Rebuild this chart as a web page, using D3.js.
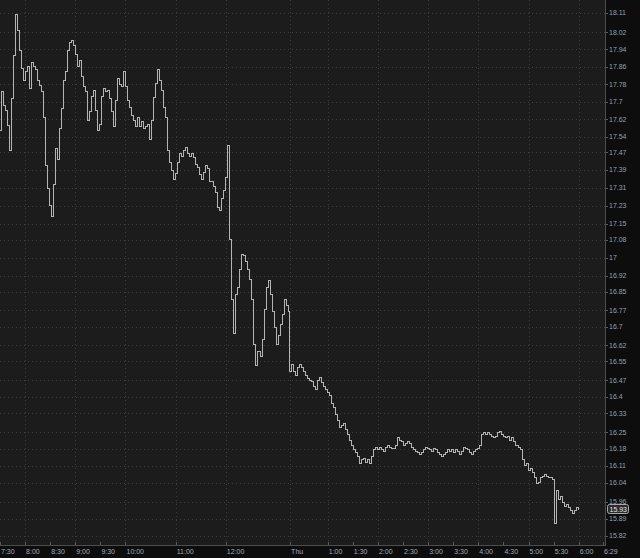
<!DOCTYPE html>
<html>
<head>
<meta charset="utf-8">
<script src="https://cdn.jsdelivr.net/npm/d3@7"></script>
<style>
body { margin: 0; background: #0d0d0d; }
svg text { font-family: "Liberation Sans", Arial, sans-serif; font-size: 7px; }
</style>
</head>
<body>
<div id="chart"></div>
<script>
// price bars, one every 2.4 minutes
var barMinutes = 2.4;

var session1Start = "7:30";
var session1Prices = [
    17.570, 17.744, 17.683, 17.661, 17.592, 17.479, 17.714, 17.911, 18.102, 18.027,
    17.933, 17.854, 17.797, 17.837, 17.863, 17.762, 17.881, 17.863, 17.846, 17.797,
    17.775, 17.744, 17.626, 17.411, 17.308, 17.233, 17.184, 17.323, 17.488, 17.435,
    17.579, 17.670, 17.797, 17.837, 17.933, 17.974, 17.983, 17.957, 17.916, 17.863,
    17.889, 17.814, 17.770, 17.744, 17.614, 17.653, 17.723, 17.753, 17.661, 17.570,
    17.596, 17.723, 17.762, 17.744, 17.753, 17.714, 17.653, 17.587, 17.705, 17.805,
    17.779, 17.770, 17.837, 17.770, 17.705, 17.674, 17.635, 17.614, 17.587, 17.626,
    17.587, 17.609, 17.579, 17.587, 17.596, 17.526, 17.614, 17.718, 17.784, 17.846,
    17.797, 17.753, 17.674, 17.626, 17.479, 17.422, 17.389, 17.345, 17.375, 17.422,
    17.466, 17.449, 17.479, 17.492, 17.466, 17.449, 17.466, 17.444, 17.415, 17.402,
    17.371, 17.345, 17.380, 17.411, 17.397, 17.336, 17.336, 17.316, 17.290, 17.220,
    17.210, 17.264, 17.299, 17.354, 17.501, 17.079, 16.815, 16.672, 16.837, 16.868,
    16.947, 17.012, 17.008, 16.982, 16.947, 16.903, 16.815, 16.621, 16.531, 16.591,
    16.573, 16.643, 16.772, 16.868, 16.899, 16.837, 16.763, 16.694, 16.621, 16.661,
    16.707, 16.751, 16.815, 16.793, 16.763
];

var session2Start = "0:15";
var session2Prices = [
    16.505, 16.536, 16.505, 16.492, 16.523, 16.536, 16.523, 16.505, 16.492, 16.479,
    16.470, 16.464, 16.442, 16.429, 16.470, 16.483, 16.460, 16.442, 16.429, 16.416,
    16.407, 16.372, 16.353, 16.323, 16.301, 16.270, 16.279, 16.288, 16.261, 16.239,
    16.217, 16.195, 16.177, 16.164, 16.147, 16.121, 16.134, 16.142, 16.125, 16.134,
    16.121, 16.147, 16.177, 16.187, 16.177, 16.187, 16.177, 16.169, 16.187, 16.195,
    16.187, 16.182, 16.182, 16.195, 16.226, 16.217, 16.209, 16.195, 16.204, 16.209,
    16.204, 16.187, 16.177, 16.169, 16.164, 16.156, 16.164, 16.177, 16.187, 16.182,
    16.177, 16.169, 16.182, 16.177, 16.164, 16.156, 16.147, 16.156, 16.164, 16.177,
    16.169, 16.177, 16.164, 16.177, 16.169, 16.156, 16.169, 16.187, 16.182, 16.177,
    16.164, 16.156, 16.169, 16.177, 16.182, 16.195, 16.239, 16.248, 16.239, 16.248,
    16.239, 16.230, 16.226, 16.230, 16.248, 16.252, 16.239, 16.230, 16.226, 16.230,
    16.217, 16.226, 16.209, 16.195, 16.187, 16.177, 16.134, 16.112, 16.121, 16.090,
    16.099, 16.082, 16.060, 16.038, 16.042, 16.060, 16.064, 16.073, 16.064, 16.060,
    16.060, 16.051, 15.873, 16.007, 15.970, 15.983, 15.956, 15.939, 15.948, 15.935,
    15.926, 15.913, 15.926, 15.935, 15.930
];

var lastPrice = 15.93;

var yTickLabels = ["18.11", "18.02", "17.94", "17.86", "17.78", "17.7", "17.62", "17.54",
    "17.47", "17.39", "17.31", "17.23", "17.15", "17.08", "17", "16.92", "16.85", "16.77",
    "16.7", "16.62", "16.55", "16.47", "16.4", "16.33", "16.25", "16.18", "16.11", "16.04",
    "15.96", "15.89", "15.82"];

var xTickTimes1 = ["7:30", "8:00", "8:30", "9:00", "9:30", "10:00", "11:00", "12:00"];
var xTickTimes2 = ["0:15", "1:00", "1:30", "2:00", "2:30", "3:00", "3:30", "4:00", "4:30",
    "5:00", "5:30", "6:00", "6:29"];
var xTickLabels2 = ["Thu", "1:00", "1:30", "2:00", "2:30", "3:00", "3:30", "4:00", "4:30",
    "5:00", "5:30", "6:00", "6:29"];

var width = 640, height = 558;
var plotW = 605, plotH = 545;

function toMinutes(t) {
    var p = t.split(":");
    return +p[0] * 60 + +p[1];
}

// overnight gap is collapsed: session 2 starts right after session 1
var s1Base = toMinutes(session1Start);
var s2Offset = (session1Prices.length - 1) * barMinutes + barMinutes / 2 - toMinutes(session2Start);
function chartMin1(t) { return toMinutes(t) - s1Base; }
function chartMin2(t) { return toMinutes(t) + s2Offset; }

var data = [];
session1Prices.forEach(function(p, i) {
    data.push({m: i * barMinutes, v: p});
});
session2Prices.forEach(function(p, i) {
    data.push({m: chartMin2(session2Start) + i * barMinutes, v: p});
});

var ticks = [];
xTickTimes1.forEach(function(t) { ticks.push({m: chartMin1(t), label: t}); });
xTickTimes2.forEach(function(t, i) { ticks.push({m: chartMin2(t), label: xTickLabels2[i]}); });

var xScale = d3.scaleLinear()
    .domain([0, chartMin2("6:29")])
    .range([0, 603]);

var yScale = d3.scaleLog()
    .domain([15.783, 18.171])
    .range([plotH, 0]);

var svg = d3.select("#chart")
    .append("svg")
    .attr("width", width)
    .attr("height", height);

svg.append("rect")
    .attr("width", width)
    .attr("height", height)
    .attr("fill", "#0d0d0d");

svg.append("rect")
    .attr("width", plotW)
    .attr("height", plotH)
    .attr("fill", "#1c1c1c");

// horizontal dotted grid
svg.append("g")
    .selectAll("line")
    .data(yTickLabels)
    .enter().append("line")
    .attr("x1", 0)
    .attr("x2", plotW)
    .attr("y1", function(d) { return Math.round(yScale(+d)) + 0.5; })
    .attr("y2", function(d) { return Math.round(yScale(+d)) + 0.5; })
    .attr("stroke", "#3c3c3c")
    .attr("stroke-dasharray", "1,3");

// vertical dotted grid on the hours
svg.append("g")
    .selectAll("line")
    .data(ticks.filter(function(d) { return /:00$/.test(d.label) || d.label == "Thu"; }))
    .enter().append("line")
    .attr("x1", function(d) { return Math.round(xScale(d.m)) + 0.5; })
    .attr("x2", function(d) { return Math.round(xScale(d.m)) + 0.5; })
    .attr("y1", 0)
    .attr("y2", plotH)
    .attr("stroke", "#3c3c3c")
    .attr("stroke-dasharray", "1,3");

var line = d3.line()
    .x(function(d) { return xScale(d.m); })
    .y(function(d) { return yScale(d.v); })
    .curve(d3.curveStep);

svg.append("path")
    .datum(data)
    .attr("fill", "none")
    .attr("stroke", "#b4b4b4")
    .attr("stroke-width", 1)
    .style("shape-rendering", "crispEdges")
    .attr("d", line);

// axis frame
svg.append("line")
    .attr("x1", plotW + 0.5).attr("x2", plotW + 0.5)
    .attr("y1", 0).attr("y2", plotH)
    .attr("stroke", "#4d4d4d");
svg.append("line")
    .attr("x1", 0).attr("x2", plotW + 1)
    .attr("y1", plotH + 0.5).attr("y2", plotH + 0.5)
    .attr("stroke", "#4d4d4d");

// right price axis
var yAxisG = svg.append("g");
yAxisG.selectAll("line")
    .data(yTickLabels)
    .enter().append("line")
    .attr("x1", plotW + 1)
    .attr("x2", plotW + 3)
    .attr("y1", function(d) { return Math.round(yScale(+d)) + 0.5; })
    .attr("y2", function(d) { return Math.round(yScale(+d)) + 0.5; })
    .attr("stroke", "#5a5a5a");
yAxisG.selectAll("text")
    .data(yTickLabels)
    .enter().append("text")
    .attr("x", plotW + 4)
    .attr("y", function(d) { return yScale(+d); })
    .attr("dy", ".35em")
    .attr("fill", "#93a0b2")
    .text(function(d) { return d; });

// time axis
var xAxisG = svg.append("g");
xAxisG.selectAll("line")
    .data(ticks)
    .enter().append("line")
    .attr("x1", function(d) { return Math.round(xScale(d.m)) + 0.5; })
    .attr("x2", function(d) { return Math.round(xScale(d.m)) + 0.5; })
    .attr("y1", plotH - 3)
    .attr("y2", plotH)
    .attr("stroke", "#5a5a5a");
xAxisG.selectAll("text")
    .data(ticks)
    .enter().append("text")
    .attr("x", function(d) { return xScale(d.m) + 1; })
    .attr("y", 554)
    .attr("fill", "#a3aab4")
    .text(function(d) { return d.label; });

// last price marker
var ly = yScale(lastPrice);
svg.append("rect")
    .attr("x", plotW + 2.5)
    .attr("y", Math.round(ly) - 4.5)
    .attr("width", 21)
    .attr("height", 9)
    .attr("rx", 2)
    .attr("fill", "#2b2b2b")
    .attr("stroke", "#a8a8a8");
svg.append("text")
    .attr("x", plotW + 4.5)
    .attr("y", ly)
    .attr("dy", ".35em")
    .attr("fill", "#e6e6e6")
    .text(lastPrice.toFixed(2));
</script>
</body>
</html>
